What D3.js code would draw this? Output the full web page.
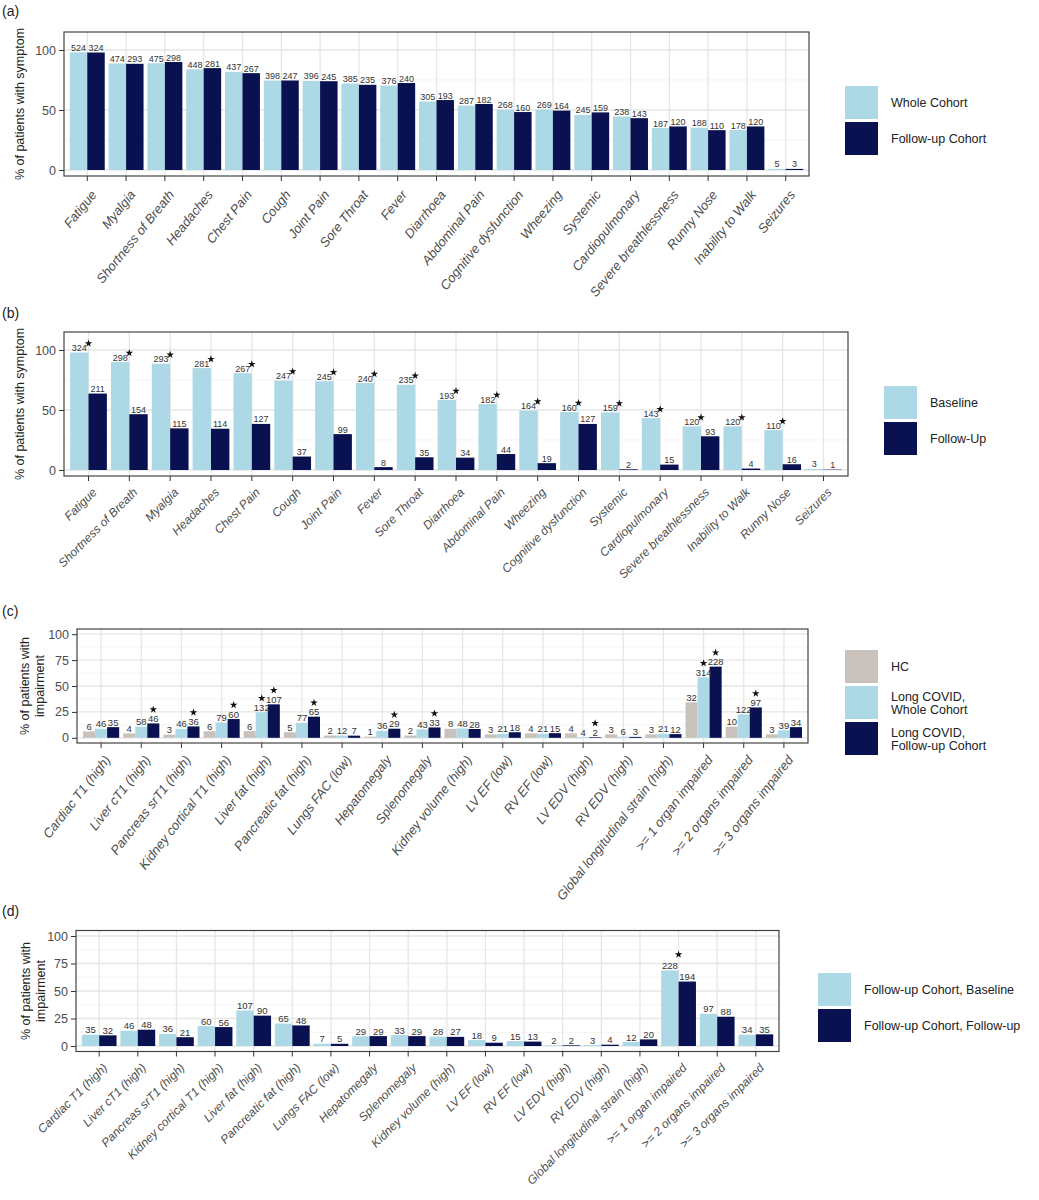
<!DOCTYPE html>
<html><head><meta charset="utf-8">
<script src="https://cdn.jsdelivr.net/npm/d3@7"></script>
<style>
body{margin:0;background:#fff}
svg{display:block}
text{font-family:"Liberation Sans",Arial,Helvetica,sans-serif}
</style>
</head><body>
<svg id="chart" width="1039" height="1200"></svg>
<script>
// ---------- DATA ----------
// Panel (a)
const catsA = ["Fatigue","Myalgia","Shortness of Breath","Headaches","Chest Pain","Cough","Joint Pain","Sore Throat","Fever","Diarrhoea","Abdominal Pain","Cognitive dysfunction","Wheezing","Systemic","Cardiopulmonary","Severe breathlessness","Runny Nose","Inability to Walk","Seizures"];
const wholePctA = [98.1,88.8,89.0,83.9,81.8,74.5,74.2,72.1,70.4,57.1,53.7,50.2,50.4,45.9,44.6,35.0,35.2,33.3,0.9];
const followPctA = [97.9,88.5,90.0,84.9,80.7,74.6,74.0,71.0,72.5,58.3,55.0,48.3,49.5,48.0,43.2,36.3,33.2,36.3,0.9];
const wholeNA = [524,474,475,448,437,398,396,385,376,305,287,268,269,245,238,187,188,178,5];
const followNA = [324,293,298,281,267,247,245,235,240,193,182,160,164,159,143,120,110,120,3];

// Panel (b)
const catsB = ["Fatigue","Shortness of Breath","Myalgia","Headaches","Chest Pain","Cough","Joint Pain","Fever","Sore Throat","Diarrhoea","Abdominal Pain","Wheezing","Cognitive dysfunction","Systemic","Cardiopulmonary","Severe breathlessness","Inability to Walk","Runny Nose","Seizures"];
const basePctB = [97.9,90.0,88.5,84.9,80.7,74.6,74.0,72.5,71.0,58.3,55.0,49.5,48.3,48.0,43.2,36.3,36.3,33.2,0.9];
const fuPctB = [63.7,46.5,34.7,34.4,38.4,11.2,29.9,2.4,10.6,10.3,13.3,5.7,38.4,0.6,4.5,28.1,1.2,4.8,0.3];
const baseNB = [324,298,293,281,267,247,245,240,235,193,182,164,160,159,143,120,120,110,3];
const fuNB = [211,154,115,114,127,37,99,8,35,34,44,19,127,2,15,93,4,16,1];
const sigB = [1,1,1,1,1,1,1,1,1,1,1,1,1,1,1,1,1,1,0];

// Panel (c)
const catsC = ["Cardiac T1 (high)","Liver cT1 (high)","Pancreas srT1 (high)","Kidney cortical T1 (high)","Liver fat (high)","Pancreatic fat (high)","Lungs FAC (low)","Hepatomegaly","Splenomegaly","Kidney volume (high)","LV EF (low)","RV EF (low)","LV EDV (high)","RV EDV (high)","Global longitudinal strain (high)",">= 1 organ impaired",">= 2 organs impaired",">= 3 organs impaired"];
const hcPctC = [6.1,4.2,3.0,6.3,6.5,5.4,2.2,1.1,2.2,8.7,3.3,4.3,4.3,3.3,3.3,34.2,10.8,3.3];
const wholePctC = [8.7,10.8,8.6,14.8,24.7,14.4,2.2,6.7,8.1,9.0,3.9,3.9,0.7,1.1,3.9,58.4,22.6,7.3];
const followPctC = [10.3,13.9,11.0,18.1,32.3,20.4,2.1,8.8,10.0,8.5,5.4,4.5,0.6,0.9,3.6,68.7,29.3,10.3];
const hcNC = [6,4,3,6,6,5,2,1,2,8,3,4,4,3,3,32,10,3];
const wholeNC = [46,58,46,79,132,77,12,36,43,48,21,21,4,6,21,314,122,39];
const followNC = [35,46,36,60,107,65,7,29,33,28,18,15,2,3,12,228,97,34];
const sigWholeC = [0,0,0,0,1,0,0,0,0,0,0,0,0,0,0,1,0,0];
const sigFollowC = [0,1,1,1,1,1,0,1,1,0,0,0,1,0,0,1,1,0];

// Panel (d)
const catsD = catsC;
const basePctD = [10.3,13.9,11.0,18.1,32.3,20.4,2.1,8.8,10.0,8.5,5.4,4.5,0.6,0.9,3.6,68.7,29.3,10.3];
const fuPctD = [9.7,14.8,8.0,17.2,27.6,18.7,2.0,9.0,9.0,8.3,3.0,4.0,0.6,1.2,6.0,58.6,26.6,10.6];
const baseND = [35,46,36,60,107,65,7,29,33,28,18,15,2,3,12,228,97,34];
const fuND = [32,48,21,56,90,48,5,29,29,27,9,13,2,4,20,194,88,35];
const sigD = [0,0,0,0,0,0,0,0,0,0,0,0,0,0,0,1,0,0];

const COL_HC = "#c9c1bc", COL_LIGHT = "#add8e6", COL_DARK = "#0a1150";

// ---------- DRAWING ----------
const svg = d3.select("#chart");
const star = d3.symbol().type(d3.symbolStar).size(18);

function drawPanel(o) {
  const g = svg.append("g");
  const x = d3.scaleBand().domain(o.cats).range([o.left, o.right]).paddingInner(0).paddingOuter(0.1);
  const y = d3.scaleLinear().domain(o.ydom).range([o.bottom, o.top]);
  const cx = c => x(c) + x.bandwidth() / 2;

  // grid
  o.minor.forEach(v => g.append("line").attr("x1", o.left).attr("x2", o.right)
    .attr("y1", y(v)).attr("y2", y(v)).attr("stroke", "#efefef").attr("stroke-width", 0.7));
  o.major.forEach(v => g.append("line").attr("x1", o.left).attr("x2", o.right)
    .attr("y1", y(v)).attr("y2", y(v)).attr("stroke", "#e6e6e6").attr("stroke-width", 1.3));
  o.cats.forEach(c => g.append("line").attr("x1", cx(c)).attr("x2", cx(c))
    .attr("y1", o.top).attr("y2", o.bottom).attr("stroke", "#e6e6e6").attr("stroke-width", 1.3));

  // bars
  const inner = d3.scaleBand().domain(d3.range(o.series.length)).range([0, x.bandwidth() * 0.9]);
  const off = x.bandwidth() * 0.05;
  o.series.forEach((s, k) => {
    g.append("g").selectAll("rect").data(o.cats).enter().append("rect")
      .attr("x", c => x(c) + off + inner(k))
      .attr("y", (c, i) => y(s.values[i]))
      .attr("width", inner.bandwidth())
      .attr("height", (c, i) => y(0) - y(s.values[i]))
      .attr("fill", s.color);
  });

  // value labels
  o.series.forEach((s, k) => {
    g.append("g").selectAll("text").data(o.cats).enter().append("text")
      .attr("x", c => x(c) + off + inner(k) + inner.bandwidth() / 2)
      .attr("y", (c, i) => y(s.values[i]) - 1.5)
      .attr("text-anchor", "middle")
      .attr("font-size", o.labelSize)
      .attr("fill", "#333")
      .text((c, i) => s.labels[i]);
    if (s.stars) {
      o.cats.forEach((c, i) => {
        if (!s.stars[i]) return;
        const sx = o.starMode === "group" ? cx(c) : x(c) + off + inner(k) + inner.bandwidth() / 2;
        const sy = y(s.values[i]) - o.starGap;
        g.append("path").attr("d", star).attr("transform", `translate(${sx},${sy})`).attr("fill", "#111");
      });
    }
  });
  if (o.groupStars) {
    o.cats.forEach((c, i) => {
      if (!o.groupStars[i]) return;
      const top = d3.max(o.series, s => s.values[i]);
      g.append("path").attr("d", star).attr("transform", `translate(${cx(c)},${y(top) - o.starGap})`).attr("fill", "#111");
    });
  }

  // border
  g.append("rect").attr("x", o.left).attr("y", o.top).attr("width", o.right - o.left)
    .attr("height", o.bottom - o.top).attr("fill", "none").attr("stroke", "#444").attr("stroke-width", 1.2);

  // axes
  const ya = g.append("g").attr("transform", `translate(${o.left},0)`)
    .call(d3.axisLeft(y).tickValues(o.major).tickSize(5).tickPadding(3));
  ya.select(".domain").remove();
  ya.selectAll("line").attr("stroke", "#333");
  ya.selectAll("text").attr("font-size", 12.5).attr("fill", "#4d4d4d").attr("font-family", null);

  const xa = g.append("g").attr("transform", `translate(0,${o.bottom})`)
    .call(d3.axisBottom(x).tickSize(5));
  xa.select(".domain").remove();
  xa.selectAll("line").attr("stroke", "#333");
  xa.selectAll("text")
    .attr("font-size", o.xLabelSize).attr("fill", "#4d4d4d").attr("font-style", "italic").attr("font-family", null)
    .attr("text-anchor", "end").attr("x", 0).attr("y", 0).attr("dy", null)
    .attr("transform", o.xLabelTransform);

  // y title
  const tx = o.titleX, ty = (o.top + o.bottom) / 2;
  const t = g.append("text").attr("transform", `translate(${tx},${ty}) rotate(-90)`)
    .attr("text-anchor", "middle").attr("font-size", 12.5).attr("fill", "#222");
  o.title.forEach((line, j) => t.append("tspan").attr("x", 0).attr("dy", j === 0 ? 0 : 15).text(line));
  if (o.title.length > 1) t.attr("transform", `translate(${tx - 7.5},${ty}) rotate(-90)`);

  // panel tag
  g.append("text").attr("x", 2).attr("y", o.tagY).attr("font-size", 14).attr("fill", "#222").text(o.tag);

  // legend
  o.legend.items.forEach((it, j) => {
    const ky = o.legend.y + j * o.legend.step;
    g.append("rect").attr("x", o.legend.x).attr("y", ky).attr("width", 33).attr("height", 33).attr("fill", it.color);
    const lt = g.append("text").attr("x", o.legend.x + 46).attr("font-size", 12.5).attr("fill", "#222");
    const lines = it.label.split("\n");
    lines.forEach((ln, m) => lt.append("tspan").attr("x", o.legend.x + 46)
      .attr("y", ky + 16.5 + 4.5 + (m - (lines.length - 1) / 2) * 13).text(ln));
  });
}

drawPanel({
  tag: "(a)", tagY: 16, cats: catsA, left: 64, right: 809, top: 32, bottom: 176, ydom: [-5, 115],
  major: [0, 50, 100], minor: [25, 75], labelSize: 9, titleX: 24, title: ["% of patients with symptom"],
  xLabelSize: 13, xLabelTransform: "translate(10,19) rotate(-51)",
  series: [
    {values: wholePctA, labels: wholeNA, color: COL_LIGHT},
    {values: followPctA, labels: followNA, color: COL_DARK}
  ],
  legend: {x: 845, y: 86, step: 36, items: [{label: "Whole Cohort", color: COL_LIGHT}, {label: "Follow-up Cohort", color: COL_DARK}]}
});

drawPanel({
  tag: "(b)", tagY: 318, cats: catsB, left: 64, right: 848, top: 332, bottom: 476, ydom: [-5, 115],
  major: [0, 50, 100], minor: [25, 75], labelSize: 9, titleX: 24, title: ["% of patients with symptom"],
  xLabelSize: 12, xLabelTransform: "translate(9,17) rotate(-45)",
  starMode: "group", starGap: 9,
  series: [
    {values: basePctB, labels: baseNB, color: COL_LIGHT, stars: sigB},
    {values: fuPctB, labels: fuNB, color: COL_DARK}
  ],
  legend: {x: 884, y: 386, step: 36, items: [{label: "Baseline", color: COL_LIGHT}, {label: "Follow-Up", color: COL_DARK}]}
});

drawPanel({
  tag: "(c)", tagY: 616, cats: catsC, left: 77, right: 808, top: 629, bottom: 743, ydom: [-5, 105],
  major: [0, 25, 50, 75, 100], minor: [12.5, 37.5, 62.5, 87.5], labelSize: 9.5, titleX: 36, title: ["% of patients with", "impairment"],
  xLabelSize: 13, xLabelTransform: "translate(10,17) rotate(-52)",
  starMode: "bar", starGap: 14,
  series: [
    {values: hcPctC, labels: hcNC, color: COL_HC},
    {values: wholePctC, labels: wholeNC, color: COL_LIGHT, stars: sigWholeC},
    {values: followPctC, labels: followNC, color: COL_DARK, stars: sigFollowC}
  ],
  legend: {x: 845, y: 650, step: 36, items: [{label: "HC", color: COL_HC}, {label: "Long COVID,\nWhole Cohort", color: COL_LIGHT}, {label: "Long COVID,\nFollow-up Cohort", color: COL_DARK}]}
});

drawPanel({
  tag: "(d)", tagY: 916, cats: catsD, left: 76, right: 779, top: 930.5, bottom: 1051.5, ydom: [-5, 105],
  major: [0, 25, 50, 75, 100], minor: [12.5, 37.5, 62.5, 87.5], labelSize: 9.5, titleX: 37, title: ["% of patients with", "impairment"],
  xLabelSize: 12, xLabelTransform: "translate(9,17) rotate(-45)",
  starGap: 16, groupStars: sigD,
  series: [
    {values: basePctD, labels: baseND, color: COL_LIGHT},
    {values: fuPctD, labels: fuND, color: COL_DARK}
  ],
  legend: {x: 818, y: 973, step: 36, items: [{label: "Follow-up Cohort, Baseline", color: COL_LIGHT}, {label: "Follow-up Cohort, Follow-up", color: COL_DARK}]}
});
</script>
</body></html>
